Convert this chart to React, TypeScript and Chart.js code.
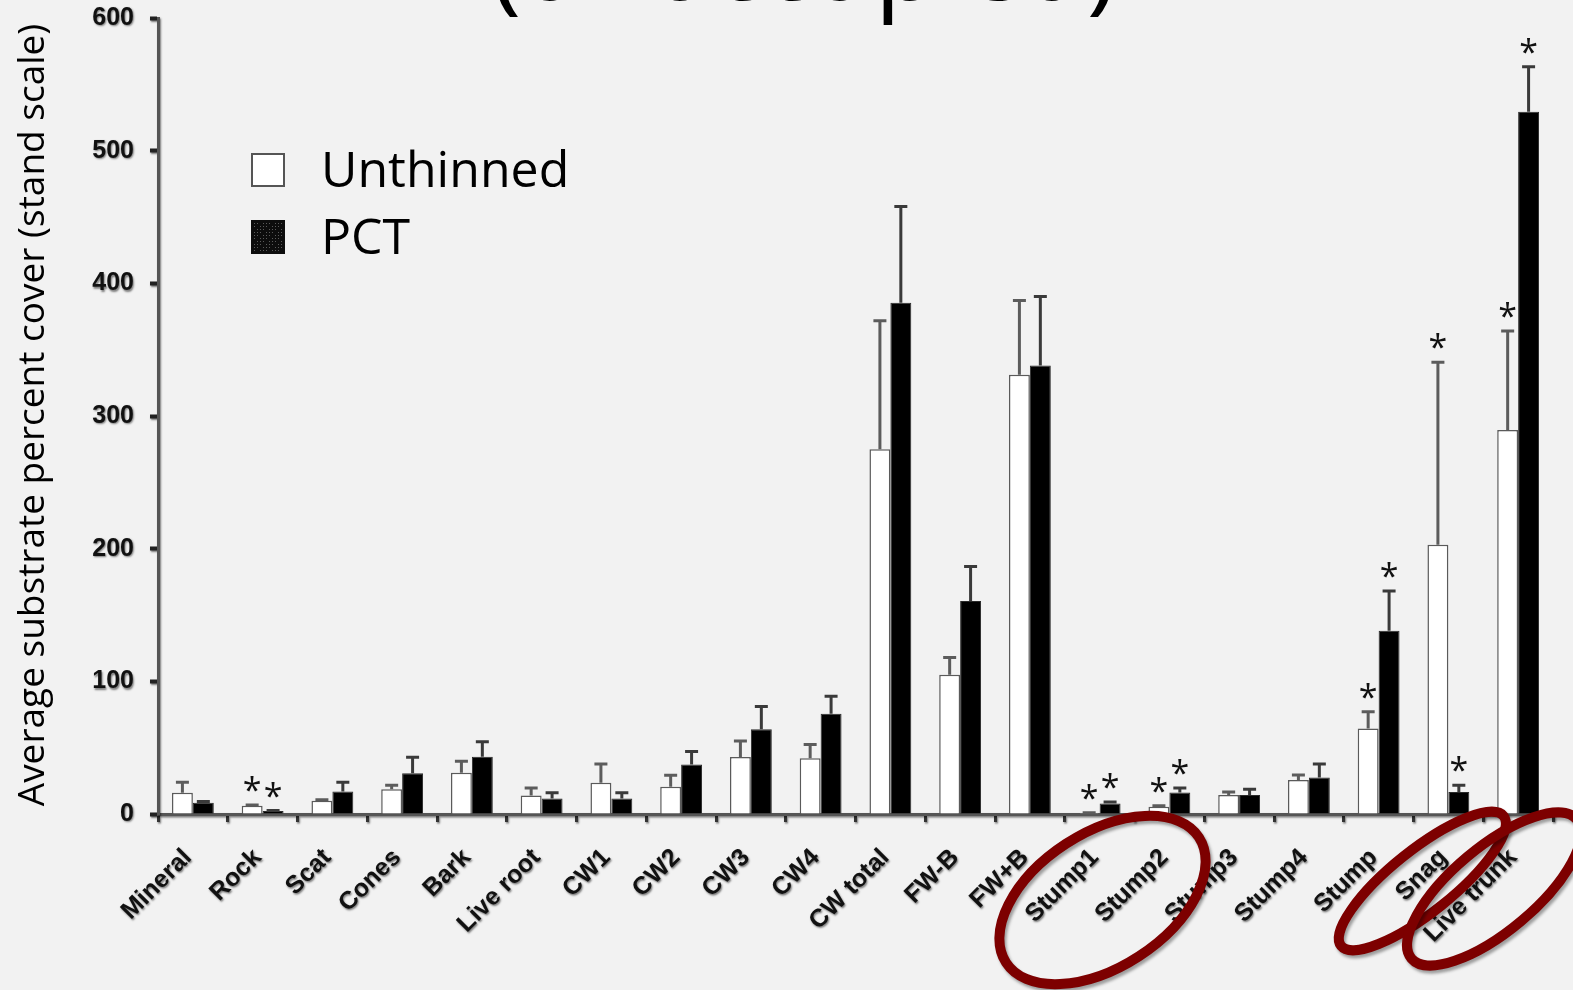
import React, { useEffect, useRef } from 'react';
import { Chart, registerables } from 'chart.js';

Chart.register(...registerables);

// Substrate categories along the x axis
const categories = [
  'Mineral', 'Rock', 'Scat', 'Cones', 'Bark', 'Live root', 'CW1', 'CW2', 'CW3', 'CW4',
  'CW total', 'FW-B', 'FW+B', 'Stump1', 'Stump2', 'Stump3', 'Stump4', 'Stump', 'Snag', 'Live trunk',
];

// Mean cover and upper error (SE) per treatment
const unthinned = [16, 6.3, 10, 18.6, 31, 14, 23.6, 20.6, 43, 42, 275, 105, 331, 0.7, 5.5, 14.3, 25.6, 64.5, 203, 289.5];
const unthinnedErr = [8, 0.5, 0.7, 3, 8.7, 5.6, 14, 8.6, 12, 10.4, 96.8, 13, 56, 0.3, 0.8, 2.3, 3.8, 12.5, 137.6, 74.5];
const pct = [8.5, 2.3, 17, 30.7, 43.2, 11.6, 11.6, 37.4, 63.8, 75.5, 385.3, 160.5, 338, 8, 16.3, 14.3, 27.6, 138.2, 16.6, 529.4];
const pctErr = [1, 0.3, 7, 12, 11.3, 4.4, 4.4, 9.8, 17.2, 13.3, 72.7, 26, 52, 1, 3.3, 4.3, 10, 29.8, 5, 33.8];

// Significant differences marked with an asterisk
const unthinnedSig = [false, true, false, false, false, false, false, false, false, false, false, false, false, true, true, false, false, true, true, true];
const pctSig = [false, true, false, false, false, false, false, false, false, false, false, false, false, true, true, false, false, true, true, true];

const yTicks = [0, 100, 200, 300, 400, 500, 600];
const seriesNames = ['Unthinned', 'PCT'];
const titleText = '(unoccupied)';
const yTitle = 'Average substrate percent cover (stand scale)';

// Category labels circled in red
const circledStumps = ['Stump1', 'Stump2'];
const circledSnag = ['Snag'];
const circledTrunk = ['Live trunk'];

const BG = '#f2f2f2';
const SANS = '"Open Sans", "Noto Sans", sans-serif';

const backgroundPlugin = {
  id: 'bgAndShadow',
  beforeDraw(chart: any) {
    const ctx = chart.ctx;
    ctx.save();
    ctx.fillStyle = BG;
    ctx.fillRect(0, 0, chart.width, chart.height);
    ctx.restore();
    // soft halo on the axes and their labels
    ctx.save();
    ctx.shadowColor = 'rgba(0,0,0,0.5)';
    ctx.shadowBlur = 2;
    ctx.shadowOffsetX = 1;
    ctx.shadowOffsetY = 1.5;
  },
  beforeDatasetsDraw(chart: any) {
    chart.ctx.restore();
  },
};

const errorBarPlugin = {
  id: 'errorBars',
  afterDatasetsDraw(chart: any) {
    const ctx = chart.ctx;
    const yScale = chart.scales.y;
    const sets = [
      { vals: unthinned, err: unthinnedErr, sig: unthinnedSig, color: '#5c5c5c' },
      { vals: pct, err: pctErr, sig: pctSig, color: '#3a3a3a' },
    ];
    sets.forEach((s, di) => {
      const meta = chart.getDatasetMeta(di);
      meta.data.forEach((bar: any, i: number) => {
        const x = bar.x;
        const yTop = yScale.getPixelForValue(s.vals[i]);
        const yCap = yScale.getPixelForValue(s.vals[i] + s.err[i]);
        ctx.save();
        ctx.strokeStyle = s.color;
        ctx.lineWidth = 3;
        ctx.lineCap = 'butt';
        ctx.beginPath();
        ctx.moveTo(x, yTop);
        ctx.lineTo(x, yCap);
        ctx.moveTo(x - 6.5, yCap);
        ctx.lineTo(x + 6.5, yCap);
        ctx.stroke();
        if (s.sig[i]) {
          ctx.fillStyle = '#111';
          ctx.font = `34px ${SANS}`;
          ctx.textAlign = 'center';
          ctx.textBaseline = 'alphabetic';
          const m = ctx.measureText('*');
          const center = yCap - 21;
          const base = center + (m.actualBoundingBoxAscent - m.actualBoundingBoxDescent) / 2;
          ctx.fillText('*', x, base);
        }
        ctx.restore();
      });
    });
  },
};

const annotationPlugin = {
  id: 'annotations',
  afterDraw(chart: any) {
    const ctx = chart.ctx;
    const xScale = chart.scales.x;
    const area = chart.chartArea;

    // title, partly above the top edge
    ctx.save();
    ctx.fillStyle = '#000';
    ctx.font = `104px ${SANS}`;
    ctx.textAlign = 'center';
    ctx.textBaseline = 'alphabetic';
    ctx.fillText(titleText, 804, 0);
    ctx.restore();

    // y axis title
    ctx.save();
    ctx.translate(33, 415);
    ctx.rotate(-Math.PI / 2);
    ctx.fillStyle = '#000';
    ctx.font = `37px ${SANS}`;
    ctx.textAlign = 'center';
    ctx.textBaseline = 'middle';
    ctx.fillText(yTitle, 0, 0);
    ctx.restore();

    // legend
    const lx = area.left + 93;
    const rows = [area.top + 135, area.top + 202];
    ctx.save();
    // white swatch
    ctx.fillStyle = '#ffffff';
    ctx.fillRect(lx, rows[0], 34, 34);
    ctx.strokeStyle = '#555';
    ctx.lineWidth = 2;
    ctx.strokeRect(lx + 1, rows[0] + 1, 32, 32);
    // dark stippled swatch
    ctx.fillStyle = '#0d0d0d';
    ctx.fillRect(lx, rows[1], 34, 34);
    ctx.fillStyle = '#5a5a5a';
    for (let yy = rows[1] + 3; yy < rows[1] + 32; yy += 3) {
      for (let xx = lx + 3; xx < lx + 32; xx += 3) {
        if (((xx - lx) / 3 + (yy - rows[1]) / 3) % 4 !== 0) ctx.fillRect(xx, yy, 1, 1);
      }
    }
    ctx.fillStyle = '#000';
    ctx.font = `50px ${SANS}`;
    ctx.textAlign = 'left';
    ctx.textBaseline = 'alphabetic';
    ctx.fillText(seriesNames[0], lx + 70, rows[0] + 34);
    ctx.fillText(seriesNames[1], lx + 70, rows[1] + 34);
    ctx.restore();

    // red rings around highlighted labels
    const centerOf = (labels: string[]) => {
      const xs = labels.map((l) => xScale.getPixelForValue(categories.indexOf(l)));
      return xs.reduce((a, b) => a + b, 0) / xs.length;
    };
    const rings = [
      { cx: centerOf(circledStumps) - 32, cy: area.bottom + 86, rx: 115, ry: 67, rot: -33 },
      { cx: centerOf(circledSnag) - 26, cy: area.bottom + 67, rx: 104, ry: 31, rot: -38.6 },
      { cx: centerOf(circledTrunk) - 24, cy: area.bottom + 75, rx: 108, ry: 42, rot: -40 },
    ];
    rings.forEach((r) => {
      ctx.save();
      ctx.strokeStyle = '#7d0000';
      ctx.lineWidth = 10;
      ctx.shadowColor = 'rgba(0,0,0,0.35)';
      ctx.shadowBlur = 3;
      ctx.shadowOffsetX = 2;
      ctx.shadowOffsetY = 3;
      ctx.beginPath();
      ctx.ellipse(r.cx, r.cy, r.rx, r.ry, (r.rot * Math.PI) / 180, 0, Math.PI * 2);
      ctx.stroke();
      ctx.restore();
    });
  },
};

export default function App() {
  const canvasRef = useRef<HTMLCanvasElement | null>(null);

  useEffect(() => {
    document.body.style.margin = '0';
    document.body.style.background = BG;
    const canvas = canvasRef.current;
    if (!canvas) return;
    const chart = new Chart(canvas, {
      type: 'bar',
      data: {
        labels: categories,
        datasets: [
          {
            label: seriesNames[0],
            data: unthinned,
            backgroundColor: '#ffffff',
            borderColor: '#5a5a5a',
            borderWidth: 1.5,
            categoryPercentage: 0.6,
            barPercentage: 1.0,
          },
          {
            label: seriesNames[1],
            data: pct,
            backgroundColor: '#000000',
            borderColor: '#2a2a2a',
            borderWidth: 1,
            categoryPercentage: 0.6,
            barPercentage: 1.0,
          },
        ],
      },
      options: {
        animation: false,
        responsive: true,
        maintainAspectRatio: false,
        layout: { padding: { left: 0, top: 18, right: 20, bottom: 0 } },
        plugins: {
          legend: { display: false },
          tooltip: { enabled: false },
          title: { display: false },
        },
        scales: {
          x: {
            offset: true,
            grid: {
              offset: true,
              drawOnChartArea: false,
              drawTicks: true,
              tickLength: 8,
              tickWidth: 3,
              tickColor: '#333',
            },
            border: { display: true, color: '#555', width: 3 },
            ticks: {
              autoSkip: false,
              maxRotation: 45,
              minRotation: 45,
              padding: 21,
              labelOffset: -5,
              color: '#111',
              font: { family: '"Liberation Sans", Arial, sans-serif', size: 25, weight: 'bold' },
            },
            afterFit: (scale: any) => {
              scale.height = 176;
              scale.paddingLeft = 0;
              scale.paddingRight = 0;
            },
          },
          y: {
            min: 0,
            max: 600,
            afterBuildTicks: (scale: any) => {
              scale.ticks = yTicks.map((v) => ({ value: v }));
            },
            grid: {
              drawOnChartArea: false,
              drawTicks: true,
              tickLength: 8,
              tickWidth: 4,
              tickColor: '#222',
            },
            border: { display: true, color: '#555', width: 3 },
            ticks: {
              padding: 16,
              color: '#111',
              font: { family: '"Liberation Sans", Arial, sans-serif', size: 25, weight: 'bold' },
            },
            afterFit: (scale: any) => {
              scale.width = 158;
              scale.paddingTop = 0;
              scale.paddingBottom = 0;
            },
          },
        },
      },
      plugins: [backgroundPlugin, errorBarPlugin, annotationPlugin],
    });
    return () => chart.destroy();
  }, []);

  return (
    <div style={{ position: 'fixed', left: 0, top: 0, width: 1573, height: 990, background: BG }}>
      <canvas ref={canvasRef} />
    </div>
  );
}
